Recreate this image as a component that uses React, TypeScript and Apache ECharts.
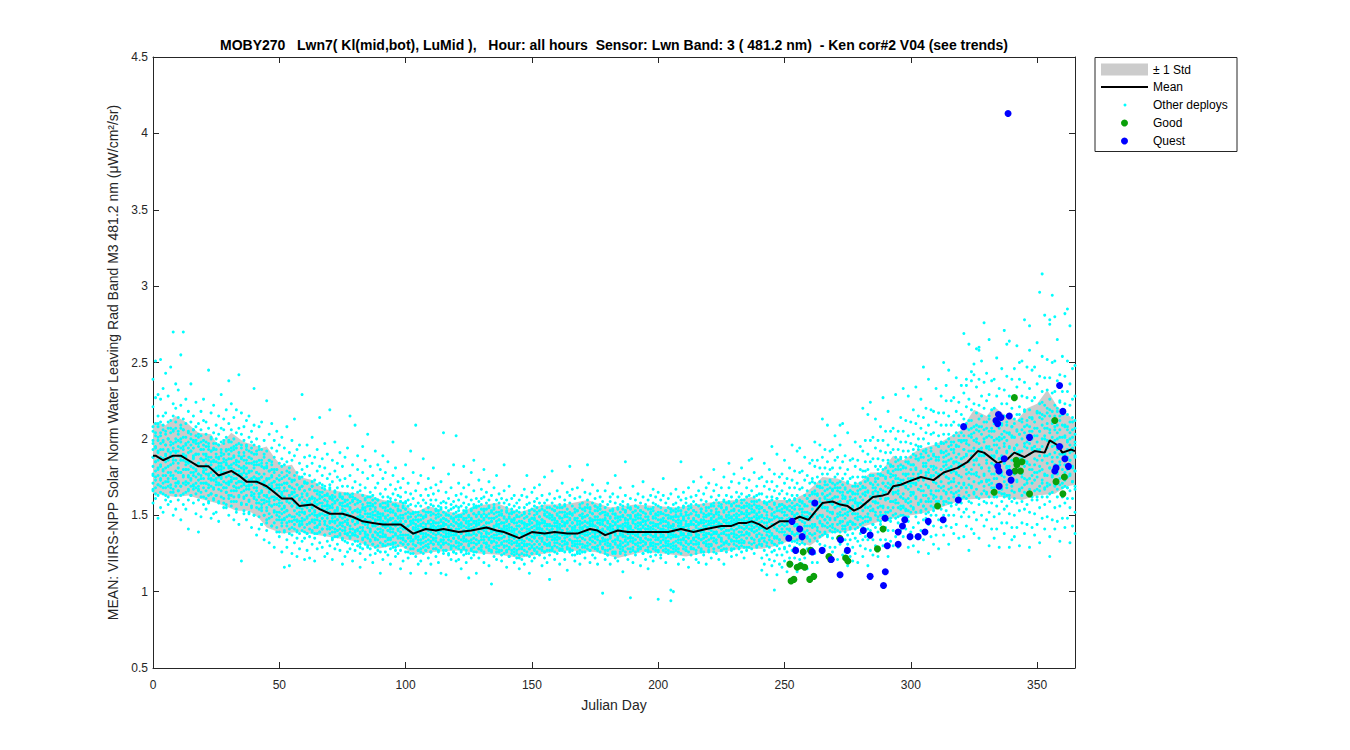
import React, { useEffect, useRef } from "react";
import * as echarts from "echarts";

const FONT = '"Liberation Sans", Arial, Helvetica, sans-serif';
const TITLE =
  "MOBY270   Lwn7( Kl(mid,bot), LuMid ),   Hour: all hours  Sensor: Lwn Band: 3 ( 481.2 nm)  - Ken cor#2 V04 (see trends)";
const Y_NAME = "MEAN: VIIRS-NPP Solar Norm Water Leaving Rad Band M3 481.2 nm (\u03bcW/cm\u00b2/sr)";
const X_NAME = "Julian Day";
const LEGEND_LABELS = ["\u00b1 1 Std", "Mean", "Other deploys", "Good", "Quest"];

// Mean curve [Julian day, value]
const meanCurve: number[][] = [
  [0, 1.89], [1, 1.89], [4, 1.86], [8, 1.89], [11, 1.89], [14, 1.86], [18, 1.82], [22, 1.82], [26, 1.76],
  [31, 1.79], [34, 1.76], [37, 1.72], [41, 1.72], [45, 1.69], [48, 1.65], [51, 1.61], [55, 1.61], [58, 1.56],
  [63, 1.57], [66, 1.54], [70, 1.51], [75, 1.51], [79, 1.49], [83, 1.46], [87, 1.45], [91, 1.44], [95, 1.44],
  [98, 1.44], [103, 1.38], [108, 1.41], [112, 1.4], [115, 1.41], [121, 1.39], [126, 1.4], [132, 1.42],
  [136, 1.4], [139, 1.39], [145, 1.35], [150, 1.39], [155, 1.38], [159, 1.39], [164, 1.38], [168, 1.38],
  [173, 1.41], [176, 1.4], [179, 1.37], [184, 1.4], [188, 1.39], [191, 1.39], [195, 1.39], [199, 1.39],
  [204, 1.39], [209, 1.41], [214, 1.39], [219, 1.41], [222, 1.42], [225, 1.43], [229, 1.43], [232, 1.45],
  [235, 1.45], [237, 1.46], [240, 1.44], [243, 1.41], [246, 1.44], [248, 1.46], [252, 1.46], [256, 1.49],
  [259.5, 1.47], [262, 1.52], [265, 1.58], [269, 1.59], [272, 1.57], [275, 1.56], [277.5, 1.53], [280, 1.55],
  [285, 1.62], [289, 1.63], [291, 1.64], [293, 1.69], [296, 1.7], [299, 1.72], [304, 1.75], [309, 1.73],
  [313, 1.78], [318.5, 1.81], [322.5, 1.85], [326.5, 1.92], [329, 1.91], [334.4, 1.84], [338.4, 1.87],
  [341, 1.91], [345, 1.88], [349, 1.92], [353, 1.91], [355, 1.99], [358, 1.96], [360, 1.91], [363.5, 1.93],
  [365, 1.92],
];

// Upper / lower edge of the +-1 std band [Julian day, value]
const stdUpper: number[][] = [
  [0, 2.1], [1, 2.11], [5, 2.09], [9, 2.15], [13, 2.11], [18, 2.04], [23, 2.03], [26, 1.95], [31, 2.04],
  [36, 1.98], [40, 1.96], [43, 1.94], [45, 1.95], [48, 1.88], [51, 1.82], [55, 1.83], [58, 1.75], [63, 1.73],
  [68, 1.67], [76, 1.65], [83, 1.64], [91, 1.6], [99, 1.58], [104, 1.52], [109, 1.56], [115, 1.53], [121, 1.51],
  [127, 1.56], [136, 1.58], [145, 1.52], [155, 1.57], [163, 1.57], [172, 1.6], [181, 1.55], [191, 1.57],
  [199, 1.56], [207, 1.55], [215, 1.57], [223, 1.59], [231, 1.6], [237, 1.62], [242, 1.59], [247, 1.6],
  [253, 1.6], [258, 1.64], [262, 1.7], [265, 1.75], [271, 1.74], [277, 1.7], [280, 1.72], [284, 1.78],
  [288, 1.78], [293, 1.89], [297, 1.86], [303, 1.93], [309, 1.96], [313, 1.99], [320, 2.06], [325, 2.19],
  [330, 2.15], [333, 2.21], [337, 2.16], [342, 2.12], [346, 2.2], [350, 2.23], [354, 2.32], [358, 2.21],
  [362, 2.16], [365, 2.12],
];
const stdLower: number[][] = [
  [0, 1.64], [1, 1.64], [5, 1.63], [9, 1.62], [14, 1.63], [18, 1.61], [25, 1.58], [30, 1.55], [33, 1.53],
  [38, 1.53], [42, 1.48], [45, 1.42], [51, 1.38], [58, 1.39], [65, 1.37], [73, 1.35], [80, 1.33], [89, 1.28],
  [95, 1.3], [99, 1.29], [104, 1.24], [111, 1.26], [121, 1.27], [129, 1.25], [138, 1.24], [145, 1.22],
  [155, 1.25], [165, 1.27], [175, 1.26], [184, 1.22], [194, 1.26], [202, 1.25], [211, 1.23], [217, 1.25],
  [225, 1.26], [233, 1.28], [241, 1.28], [247, 1.3], [253, 1.34], [260, 1.3], [267, 1.38], [274, 1.39],
  [280, 1.42], [288, 1.46], [296, 1.49], [304, 1.51], [312, 1.55], [320, 1.6], [328, 1.61], [336, 1.62],
  [344, 1.6], [350, 1.63], [357, 1.64], [362, 1.69], [365, 1.7],
];

// "Good" deploys [Julian day, value]
const goodPoints: number[][] = [
  [341, 2.27], [357, 2.12], [341.7, 1.86], [342, 1.83], [341.3, 1.79], [343.4, 1.79], [357.5, 1.72],
  [360.8, 1.75], [360.2, 1.64], [347, 1.64], [333, 1.65], [310.6, 1.56], [289, 1.41], [286.8, 1.28],
  [257.4, 1.26], [260.3, 1.27], [267.6, 1.23], [268.3, 1.21], [274.2, 1.22], [275.1, 1.2], [252.1, 1.18],
  [255, 1.16], [256.3, 1.17], [258, 1.16], [253.7, 1.08], [252.6, 1.07], [260, 1.08], [261.6, 1.1],
  [271.9, 1.35], [344, 1.85],
];

// "Quest" deploys [Julian day, value]
const questPoints: number[][] = [
  [358.9, 2.35], [334.7, 2.16], [333.7, 2.12], [335.7, 2.14], [339, 2.15], [360.2, 2.18], [320.9, 2.08],
  [347, 2.01], [337, 1.87], [334.4, 1.82], [339, 1.78], [358.9, 1.95], [357.5, 1.81], [357, 1.79], [335, 1.69],
  [318.8, 1.6], [262, 1.58], [312.8, 1.47], [306.9, 1.46], [297.6, 1.47], [296.7, 1.43], [295, 1.39],
  [305.6, 1.39], [302.9, 1.36], [299.7, 1.36], [289.8, 1.48], [283.9, 1.37], [281.2, 1.4], [295, 1.31],
  [290.7, 1.3], [272.2, 1.34], [274.9, 1.27], [264.9, 1.27], [261, 1.26], [254.4, 1.27], [251.7, 1.35],
  [256, 1.41], [257, 1.36], [253, 1.46], [268.5, 1.21], [272, 1.11], [283.9, 1.1], [289.9, 1.13],
  [289.2, 1.04], [338.5, 4.13], [334.4, 2.1], [362.4, 1.82], [361, 1.87], [339.7, 1.73], [334.9, 1.79],
];

// "Other deploys": each row = [Julian day, values x 100 ...] (scattered points)
const otherDeploysRows: number[][] = [
  [0, 193, 171, 205, 182, 166, 221, 188, 158, 239, 199, 176],
  [1, 185, 210, 168, 194, 227, 179, 161, 202, 173, 251],
  [2, 176, 199, 186, 215, 163, 208, 192, 148, 181, 170, 229],
  [3, 197, 182, 169, 226, 188, 204, 174, 155, 211, 252],
  [4, 187, 164, 209, 180, 198, 171, 233, 193, 152, 215, 176],
  [5, 172, 203, 190, 168, 217, 185, 160, 196, 243, 181],
  [6, 200, 174, 186, 162, 211, 193, 178, 228, 157, 207, 169],
  [7, 183, 212, 170, 191, 204, 165, 247, 178, 196, 159],
  [8, 192, 167, 206, 184, 270, 176, 215, 197, 150, 188, 223],
  [9, 174, 198, 186, 163, 220, 191, 207, 169, 236, 154],
  [10, 189, 205, 171, 195, 181, 160, 214, 178, 199, 232, 166],
  [11, 178, 194, 209, 169, 255, 186, 163, 222, 200, 147],
  [12, 186, 171, 201, 193, 270, 176, 213, 157, 189, 206, 180],
  [13, 180, 196, 165, 210, 188, 172, 201, 226, 154, 183],
  [14, 191, 175, 205, 184, 167, 198, 218, 160, 180, 141, 171],
  [15, 178, 192, 169, 203, 185, 211, 163, 196, 236, 174],
  [16, 187, 170, 199, 181, 215, 176, 158, 194, 206, 167, 189],
  [17, 175, 190, 202, 168, 183, 224, 197, 151, 179, 208],
  [18, 184, 169, 197, 177, 210, 190, 160, 173, 201, 139, 166],
  [19, 171, 193, 182, 165, 206, 187, 176, 218, 149, 198],
  [20, 186, 174, 199, 162, 212, 181, 193, 226, 168, 157, 178],
  [21, 177, 190, 166, 203, 183, 171, 211, 195, 154, 187],
  [22, 182, 197, 170, 188, 207, 163, 245, 176, 193, 158, 174],
  [23, 169, 185, 201, 178, 164, 192, 217, 174, 188, 148],
  [24, 180, 194, 168, 176, 204, 186, 161, 222, 197, 173, 151],
  [25, 174, 188, 200, 163, 181, 209, 170, 193, 152, 185],
  [26, 167, 184, 196, 175, 159, 203, 188, 171, 215, 146, 180],
  [27, 182, 170, 193, 178, 207, 162, 189, 229, 174, 198],
  [28, 172, 185, 161, 199, 177, 168, 206, 190, 155, 181, 213],
  [29, 178, 165, 192, 183, 201, 171, 157, 219, 186, 168],
  [30, 170, 187, 176, 198, 163, 210, 182, 150, 238, 193, 172],
  [31, 181, 166, 194, 175, 206, 187, 159, 223, 172, 198],
  [32, 174, 189, 162, 180, 200, 169, 214, 193, 147, 184, 166],
  [33, 168, 183, 196, 174, 159, 204, 186, 171, 219, 152],
  [34, 176, 163, 191, 179, 207, 168, 242, 185, 144, 197, 172],
  [35, 165, 181, 194, 172, 158, 203, 187, 120, 217, 176],
  [36, 178, 162, 186, 170, 199, 182, 153, 208, 166, 191, 174],
  [37, 169, 184, 157, 193, 175, 163, 212, 181, 147, 196],
  [38, 173, 160, 188, 178, 167, 201, 184, 151, 215, 170, 192],
  [39, 163, 179, 194, 170, 156, 187, 205, 174, 142, 198],
  [40, 175, 161, 183, 168, 196, 172, 150, 209, 185, 164, 233],
  [41, 166, 178, 155, 190, 171, 160, 200, 183, 137, 174, 192],
  [42, 158, 173, 186, 164, 149, 195, 177, 208, 162, 141],
  [43, 171, 160, 182, 153, 175, 193, 166, 144, 211, 186, 157],
  [44, 163, 177, 150, 188, 169, 158, 199, 181, 134, 172],
  [45, 155, 168, 181, 162, 174, 147, 192, 225, 159, 184, 140],
  [46, 170, 157, 186, 165, 151, 179, 203, 161, 132, 174],
  [47, 162, 175, 149, 183, 168, 156, 194, 171, 143, 210, 180],
  [48, 153, 166, 178, 160, 172, 145, 188, 157, 129, 199],
  [49, 168, 157, 180, 150, 164, 192, 174, 139, 205, 161, 147],
  [50, 160, 147, 173, 156, 184, 166, 136, 196, 152, 170],
  [51, 151, 165, 178, 158, 143, 187, 163, 126, 201, 170, 147],
  [52, 162, 148, 171, 139, 183, 155, 116, 194, 168, 152],
  [53, 145, 159, 176, 166, 134, 185, 153, 129, 208, 171, 149],
  [54, 158, 141, 169, 150, 181, 163, 117, 191, 146, 174],
  [55, 149, 164, 137, 172, 156, 186, 142, 125, 199, 160, 168],
  [56, 153, 167, 144, 176, 159, 132, 189, 147, 162, 213],
  [57, 140, 157, 170, 151, 163, 178, 135, 193, 146, 123],
  [58, 161, 146, 174, 155, 138, 184, 150, 167, 128, 196, 143],
  [59, 144, 158, 169, 152, 133, 180, 164, 229, 148, 175],
  [60, 156, 139, 166, 147, 177, 160, 121, 188, 152, 171, 135],
  [61, 149, 163, 138, 171, 155, 182, 144, 127, 196, 158],
  [62, 141, 158, 167, 150, 176, 136, 189, 153, 160, 122, 145],
  [63, 155, 146, 169, 139, 162, 184, 151, 131, 201, 172],
  [64, 147, 161, 135, 173, 153, 142, 188, 158, 120, 166, 150],
  [65, 157, 143, 166, 150, 179, 138, 160, 193, 147, 128],
  [66, 139, 154, 171, 146, 161, 132, 182, 150, 214, 163, 144],
  [67, 151, 165, 141, 176, 148, 158, 129, 187, 156, 170],
  [68, 144, 160, 150, 169, 137, 181, 153, 123, 197, 146, 163],
  [69, 156, 141, 164, 148, 174, 133, 159, 190, 152, 125],
  [70, 138, 152, 167, 145, 161, 177, 142, 219, 130, 155, 170],
  [71, 150, 163, 139, 172, 146, 157, 186, 134, 121, 160],
  [72, 145, 158, 136, 166, 152, 179, 141, 162, 198, 128, 149],
  [73, 153, 140, 168, 147, 160, 131, 184, 155, 143, 175],
  [74, 137, 151, 164, 144, 173, 157, 127, 191, 149, 162, 141],
  [75, 148, 161, 135, 169, 154, 140, 182, 158, 118, 145],
  [76, 142, 156, 133, 164, 149, 174, 138, 123, 188, 153, 160],
  [77, 151, 138, 160, 145, 169, 132, 156, 194, 147, 126],
  [78, 135, 149, 163, 143, 155, 128, 176, 150, 215, 139, 158],
  [79, 146, 159, 131, 168, 152, 141, 183, 137, 120, 162],
  [80, 140, 153, 137, 161, 148, 172, 133, 157, 209, 144, 127],
  [81, 152, 136, 165, 145, 158, 130, 180, 149, 141, 189],
  [82, 131, 147, 159, 142, 170, 153, 125, 139, 166, 150, 116],
  [83, 145, 157, 134, 163, 149, 178, 140, 128, 195, 154],
  [84, 138, 151, 160, 144, 131, 168, 155, 186, 136, 147, 121],
  [85, 149, 135, 162, 142, 156, 129, 174, 146, 137, 203],
  [86, 133, 146, 158, 140, 165, 151, 124, 182, 139, 154, 128],
  [87, 144, 156, 131, 163, 148, 137, 176, 152, 119, 160],
  [88, 139, 150, 129, 158, 143, 168, 135, 155, 192, 146, 125],
  [89, 147, 134, 160, 141, 152, 127, 171, 144, 138, 183],
  [90, 132, 145, 157, 139, 164, 149, 112, 180, 136, 151, 126],
  [91, 143, 155, 130, 162, 146, 136, 174, 150, 121, 140, 189],
  [92, 137, 148, 158, 133, 167, 142, 126, 153, 145, 178],
  [93, 146, 131, 156, 140, 162, 150, 124, 185, 135, 157, 143],
  [94, 134, 147, 139, 159, 128, 170, 152, 141, 118, 161],
  [95, 141, 153, 129, 164, 145, 136, 176, 148, 131, 198],
  [96, 145, 132, 157, 138, 167, 151, 123, 143, 160, 127, 181],
  [97, 130, 144, 154, 140, 163, 136, 149, 172, 125, 156],
  [98, 148, 135, 159, 142, 127, 168, 153, 139, 115, 146, 162],
  [99, 137, 150, 131, 158, 144, 174, 134, 155, 120, 141],
  [100, 142, 129, 154, 146, 165, 137, 151, 126, 183, 159, 133],
  [101, 135, 148, 140, 160, 131, 156, 143, 171, 122, 152],
  [102, 144, 133, 157, 139, 149, 125, 164, 136, 112, 146, 192],
  [103, 131, 145, 152, 138, 161, 142, 128, 178, 147, 134],
  [104, 140, 152, 130, 156, 144, 135, 166, 149, 123, 209, 138],
  [105, 136, 147, 127, 158, 141, 150, 132, 171, 143, 118],
  [106, 139, 150, 128, 156, 143, 134, 163, 147, 120, 176, 131],
  [107, 145, 132, 153, 138, 160, 142, 125, 149, 136, 187],
  [108, 130, 144, 149, 136, 158, 141, 112, 167, 133, 152, 127],
  [109, 141, 152, 129, 146, 137, 163, 131, 155, 174, 122],
  [110, 136, 147, 133, 157, 142, 126, 160, 150, 139, 118, 168],
  [111, 143, 131, 151, 138, 164, 145, 128, 156, 134, 181],
  [112, 128, 140, 154, 135, 148, 160, 142, 123, 170, 137, 150],
  [113, 138, 149, 132, 156, 141, 126, 166, 145, 119, 153],
  [114, 142, 129, 150, 137, 158, 146, 133, 112, 172, 140, 155],
  [115, 134, 145, 139, 159, 131, 152, 143, 127, 204, 148],
  [116, 140, 151, 127, 155, 136, 147, 165, 132, 111, 158, 144],
  [117, 131, 143, 153, 138, 161, 142, 125, 150, 136, 177],
  [118, 144, 133, 157, 140, 130, 149, 168, 137, 121, 154, 128],
  [119, 137, 148, 130, 155, 143, 159, 135, 126, 183, 146],
  [120, 141, 129, 152, 138, 163, 145, 132, 202, 149, 120, 156],
  [121, 135, 147, 128, 153, 141, 160, 132, 144, 121, 171, 150],
  [122, 142, 131, 156, 138, 149, 126, 164, 145, 134, 115],
  [123, 129, 143, 151, 136, 158, 140, 124, 168, 147, 133, 182],
  [124, 145, 134, 155, 139, 127, 162, 148, 137, 119, 153],
  [125, 138, 150, 130, 146, 141, 170, 125, 157, 133, 143, 109],
  [126, 132, 144, 153, 137, 160, 128, 148, 141, 178, 122],
  [127, 146, 135, 157, 129, 142, 166, 151, 138, 124, 155, 186],
  [128, 137, 149, 131, 155, 143, 126, 161, 146, 112, 134],
  [129, 141, 128, 152, 139, 159, 133, 147, 122, 173, 144, 156],
  [130, 134, 146, 138, 157, 130, 150, 142, 167, 127, 161],
  [131, 143, 132, 154, 140, 125, 162, 148, 136, 119, 151, 180],
  [132, 129, 141, 149, 136, 158, 145, 131, 165, 139, 154],
  [133, 145, 134, 156, 138, 127, 151, 142, 172, 130, 117, 160],
  [134, 136, 148, 132, 153, 141, 163, 126, 146, 105, 139],
  [135, 140, 129, 151, 137, 157, 143, 133, 168, 148, 123, 155],
  [136, 132, 144, 139, 160, 128, 152, 146, 135, 176, 121],
  [137, 147, 135, 155, 130, 142, 164, 138, 150, 126, 158, 144],
  [138, 138, 150, 127, 153, 140, 131, 161, 145, 120, 135],
  [139, 133, 145, 136, 158, 142, 125, 166, 149, 139, 183, 129],
  [140, 141, 130, 152, 138, 147, 160, 127, 143, 155, 116],
  [141, 128, 140, 149, 134, 157, 144, 132, 169, 137, 151, 123],
  [142, 139, 151, 131, 146, 136, 161, 142, 125, 154, 147],
  [143, 135, 126, 148, 140, 156, 132, 145, 163, 119, 152, 138],
  [144, 130, 143, 137, 153, 127, 149, 141, 158, 122, 133],
  [145, 134, 124, 146, 131, 152, 139, 128, 160, 143, 115, 155],
  [146, 129, 141, 136, 150, 125, 145, 132, 163, 138, 121],
  [147, 137, 127, 148, 133, 155, 142, 130, 167, 145, 118, 152],
  [148, 131, 144, 139, 157, 126, 149, 135, 162, 141, 176],
  [149, 140, 128, 151, 134, 146, 123, 158, 137, 144, 131, 112],
  [150, 133, 145, 130, 154, 139, 148, 125, 165, 142, 120],
  [151, 138, 127, 150, 136, 159, 143, 131, 147, 122, 156, 168],
  [152, 129, 141, 146, 133, 155, 137, 126, 161, 144, 151],
  [153, 142, 131, 153, 139, 128, 149, 135, 170, 124, 158, 145],
  [154, 135, 147, 129, 156, 140, 133, 163, 145, 117, 138],
  [155, 137, 126, 150, 143, 158, 131, 146, 139, 175, 122, 153],
  [156, 131, 144, 138, 152, 127, 160, 141, 134, 149, 119],
  [157, 143, 132, 155, 136, 148, 124, 164, 140, 130, 151, 108],
  [158, 128, 141, 147, 134, 158, 139, 127, 150, 143, 179],
  [159, 139, 130, 153, 137, 145, 161, 132, 121, 148, 156, 135],
  [160, 134, 146, 129, 151, 140, 136, 166, 143, 125, 155],
  [161, 141, 127, 149, 135, 157, 144, 131, 162, 138, 118, 152],
  [162, 130, 143, 137, 155, 128, 148, 140, 171, 133, 146],
  [163, 145, 133, 152, 138, 126, 160, 143, 135, 149, 121, 157],
  [164, 136, 149, 131, 154, 141, 129, 165, 146, 138, 114],
  [165, 139, 128, 151, 134, 158, 143, 126, 148, 137, 163, 182],
  [166, 127, 140, 145, 133, 156, 138, 150, 130, 167, 142],
  [167, 142, 131, 154, 137, 147, 124, 161, 140, 133, 152, 120],
  [168, 135, 146, 129, 153, 139, 144, 131, 168, 148, 125],
  [169, 140, 127, 150, 136, 157, 142, 133, 162, 118, 146, 155],
  [170, 131, 145, 138, 151, 126, 158, 141, 135, 173, 149],
  [171, 146, 134, 155, 139, 129, 149, 143, 165, 137, 122, 153],
  [172, 137, 150, 132, 157, 142, 128, 160, 145, 139, 183],
  [173, 143, 131, 152, 138, 164, 146, 127, 155, 134, 148, 119],
  [174, 133, 147, 140, 158, 129, 151, 136, 170, 144, 124],
  [175, 139, 128, 153, 135, 147, 161, 132, 143, 122, 156, 138],
  [176, 130, 142, 149, 136, 155, 127, 145, 139, 166, 118],
  [177, 144, 133, 156, 140, 126, 151, 137, 162, 147, 131, 154],
  [178, 135, 147, 129, 152, 141, 135, 159, 144, 99, 128],
  [179, 131, 143, 137, 155, 125, 148, 139, 166, 133, 150, 121],
  [180, 138, 127, 150, 134, 157, 142, 130, 146, 171, 124],
  [181, 142, 131, 153, 137, 128, 159, 144, 135, 149, 118, 162],
  [182, 129, 141, 146, 133, 154, 139, 125, 164, 143, 151],
  [183, 140, 132, 151, 137, 158, 145, 126, 148, 134, 176, 122],
  [184, 134, 146, 130, 155, 141, 136, 162, 149, 120, 143],
  [185, 143, 128, 152, 138, 147, 133, 168, 140, 125, 157, 131],
  [186, 132, 144, 139, 156, 127, 150, 142, 137, 159, 113],
  [187, 139, 130, 153, 136, 148, 124, 163, 145, 133, 152, 185],
  [188, 128, 142, 147, 135, 157, 140, 131, 155, 121, 144],
  [189, 141, 133, 154, 138, 126, 150, 143, 161, 96, 136, 149],
  [190, 135, 147, 129, 152, 140, 145, 132, 169, 138, 119],
  [191, 137, 126, 149, 134, 156, 142, 131, 147, 160, 124, 153],
  [192, 130, 143, 138, 155, 127, 148, 141, 136, 164, 150],
  [193, 144, 132, 153, 139, 129, 158, 145, 134, 150, 117, 141],
  [194, 133, 146, 130, 152, 137, 143, 162, 147, 125, 172],
  [195, 138, 127, 151, 135, 157, 141, 132, 155, 121, 146, 139],
  [196, 129, 141, 147, 134, 160, 138, 126, 149, 143, 115],
  [197, 142, 131, 154, 137, 145, 123, 163, 140, 134, 152, 130],
  [198, 136, 148, 128, 153, 141, 132, 158, 145, 120, 167],
  [199, 140, 129, 151, 136, 157, 143, 134, 148, 124, 162, 137],
  [200, 131, 144, 139, 156, 126, 150, 142, 135, 165, 95],
  [201, 145, 133, 152, 138, 129, 147, 140, 160, 122, 155, 136],
  [202, 134, 146, 130, 151, 141, 137, 163, 148, 127, 174],
  [203, 139, 128, 153, 135, 146, 132, 158, 143, 119, 150, 130],
  [204, 130, 142, 148, 136, 155, 140, 127, 161, 145, 133],
  [205, 143, 131, 154, 138, 126, 149, 137, 94, 164, 152, 101],
  [206, 136, 147, 132, 153, 141, 128, 157, 144, 100, 139],
  [207, 141, 130, 150, 137, 158, 146, 133, 152, 123, 167, 127],
  [208, 132, 145, 140, 155, 128, 149, 136, 162, 143, 118],
  [209, 146, 134, 153, 139, 131, 160, 144, 137, 151, 125, 185],
  [210, 137, 149, 130, 156, 142, 134, 165, 147, 138, 121],
  [211, 140, 129, 152, 136, 158, 144, 132, 150, 127, 161, 143],
  [212, 131, 143, 138, 154, 126, 148, 141, 135, 168, 116],
  [213, 144, 133, 155, 139, 129, 151, 137, 162, 146, 124, 157],
  [214, 135, 147, 131, 153, 140, 128, 159, 144, 134, 172],
  [215, 139, 127, 150, 136, 157, 143, 131, 146, 121, 163, 138],
  [216, 132, 145, 140, 156, 129, 150, 137, 135, 166, 119],
  [217, 146, 134, 154, 141, 126, 160, 145, 139, 152, 128, 175],
  [218, 137, 149, 132, 157, 143, 135, 164, 147, 124, 141],
  [219, 142, 131, 153, 138, 159, 146, 133, 150, 118, 168, 136],
  [220, 134, 146, 141, 155, 129, 151, 138, 144, 171, 126],
  [221, 147, 135, 156, 140, 131, 162, 148, 137, 153, 122, 145],
  [222, 138, 150, 133, 158, 143, 128, 166, 146, 139, 180],
  [223, 143, 132, 154, 139, 160, 147, 134, 151, 125, 170, 138],
  [224, 136, 148, 129, 156, 142, 137, 163, 145, 121, 152],
  [225, 141, 133, 157, 138, 149, 130, 168, 144, 135, 155, 127],
  [226, 132, 147, 142, 160, 128, 152, 139, 146, 175, 118],
  [227, 149, 137, 158, 143, 132, 163, 150, 140, 155, 126, 145],
  [228, 140, 152, 135, 159, 145, 131, 168, 148, 137, 184],
  [229, 144, 133, 156, 141, 162, 149, 128, 153, 138, 172, 123],
  [230, 136, 150, 143, 158, 131, 154, 140, 147, 177, 128],
  [231, 148, 137, 160, 144, 133, 165, 151, 141, 156, 124, 146],
  [232, 139, 153, 136, 162, 147, 132, 171, 150, 143, 129],
  [233, 145, 134, 158, 142, 164, 151, 130, 155, 139, 181, 126],
  [234, 137, 151, 144, 160, 133, 156, 141, 148, 174, 122],
  [235, 150, 139, 162, 146, 135, 168, 153, 143, 158, 127, 149],
  [236, 141, 155, 137, 163, 148, 132, 173, 151, 144, 186],
  [237, 146, 135, 159, 143, 166, 152, 131, 156, 140, 187, 128],
  [238, 139, 153, 145, 162, 134, 157, 142, 149, 178, 125],
  [239, 151, 140, 163, 147, 136, 169, 155, 144, 159, 129, 148],
  [240, 142, 156, 138, 164, 149, 133, 174, 152, 145, 131],
  [241, 142, 155, 130, 150, 164, 137, 175, 122, 146, 114],
  [242, 148, 135, 159, 141, 169, 127, 153, 118, 184],
  [243, 139, 152, 132, 162, 145, 124, 157, 172, 111, 143],
  [244, 147, 139, 155, 129, 167, 159, 134, 180, 121],
  [245, 137, 150, 162, 132, 144, 172, 126, 154, 195, 117],
  [246, 152, 142, 158, 135, 166, 127, 148, 177, 120, 131, 101],
  [247, 141, 155, 130, 149, 161, 136, 169, 124, 190, 111],
  [248, 146, 134, 153, 164, 139, 128, 157, 175, 118],
  [249, 144, 157, 132, 152, 166, 139, 177, 124, 148, 116],
  [250, 150, 137, 161, 143, 171, 129, 155, 120, 186],
  [251, 141, 154, 134, 164, 147, 126, 159, 174, 113, 145],
  [252, 148, 140, 156, 130, 168, 160, 135, 181, 122],
  [253, 138, 151, 163, 133, 145, 173, 127, 155, 196, 118],
  [254, 154, 144, 160, 137, 168, 129, 150, 179, 122, 133],
  [255, 143, 157, 132, 151, 163, 138, 171, 126, 192, 113],
  [256, 149, 137, 156, 167, 142, 131, 160, 178, 121, 194],
  [257, 146, 159, 134, 154, 168, 141, 179, 126, 150, 118],
  [258, 152, 139, 163, 145, 173, 131, 157, 122, 188],
  [259, 143, 156, 136, 166, 149, 128, 161, 176, 115, 147],
  [260, 151, 143, 159, 133, 171, 163, 138, 184, 125],
  [261, 150, 164, 137, 159, 174, 144, 186, 128, 154, 119],
  [262, 158, 144, 171, 151, 182, 135, 164, 125, 198],
  [263, 149, 164, 142, 175, 156, 133, 169, 186, 119, 154],
  [264, 159, 150, 168, 139, 181, 172, 145, 196, 131],
  [265, 149, 164, 177, 144, 157, 188, 137, 168, 213, 127],
  [266, 166, 155, 172, 147, 181, 138, 161, 193, 130, 143],
  [267, 155, 170, 142, 163, 177, 149, 185, 136, 209, 122],
  [268, 160, 147, 168, 180, 152, 140, 172, 192, 129],
  [269, 157, 171, 144, 166, 181, 151, 193, 135, 161, 126],
  [270, 162, 148, 175, 155, 186, 139, 168, 129, 202],
  [271, 151, 166, 144, 177, 158, 135, 171, 188, 121, 156],
  [272, 159, 150, 168, 139, 181, 172, 145, 196, 131, 209],
  [273, 146, 161, 174, 141, 154, 185, 134, 165, 210, 124],
  [274, 162, 151, 168, 143, 177, 134, 157, 189, 126, 139],
  [275, 150, 165, 137, 158, 172, 144, 180, 131, 204, 117],
  [276, 154, 141, 162, 174, 146, 134, 166, 186, 123],
  [277, 151, 165, 138, 160, 175, 145, 187, 129, 155, 120],
  [278, 158, 144, 171, 151, 182, 135, 164, 125, 198],
  [279, 149, 164, 142, 175, 156, 133, 169, 186, 119, 154],
  [280, 158, 149, 167, 138, 180, 171, 144, 195, 130],
  [281, 148, 164, 179, 142, 157, 192, 134, 169, 220, 123],
  [282, 168, 155, 175, 146, 185, 136, 163, 199, 128, 141],
  [283, 155, 173, 141, 165, 180, 149, 190, 134, 216, 117],
  [284, 162, 147, 171, 185, 153, 140, 176, 199, 127, 224],
  [285, 159, 176, 144, 170, 187, 153, 201, 134, 165, 124],
  [286, 168, 152, 182, 159, 194, 142, 174, 130, 213],
  [287, 158, 174, 149, 187, 165, 139, 180, 199, 123, 163],
  [288, 167, 156, 177, 144, 192, 182, 150, 208, 134],
  [289, 155, 171, 186, 149, 164, 199, 141, 176, 227, 130],
  [290, 174, 161, 181, 152, 191, 142, 169, 205, 134, 147],
  [291, 161, 179, 147, 171, 186, 155, 196, 140, 218, 123],
  [292, 168, 153, 177, 191, 159, 146, 182, 205, 133],
  [293, 165, 182, 150, 176, 193, 159, 207, 140, 171, 130],
  [294, 174, 158, 188, 165, 200, 148, 180, 136, 229],
  [295, 164, 180, 155, 193, 171, 145, 186, 205, 129, 169],
  [296, 173, 162, 183, 150, 198, 188, 156, 214, 140],
  [297, 161, 177, 192, 155, 170, 205, 147, 182, 233, 136],
  [298, 181, 168, 188, 159, 198, 149, 176, 212, 141, 154],
  [299, 167, 185, 153, 177, 192, 161, 202, 146, 228, 129],
  [300, 174, 159, 183, 197, 165, 152, 188, 211, 139],
  [301, 171, 190, 154, 183, 203, 164, 219, 142, 177, 130],
  [302, 180, 161, 196, 170, 210, 149, 187, 136, 234],
  [303, 167, 186, 157, 200, 175, 145, 193, 215, 126, 173],
  [304, 178, 166, 190, 152, 207, 195, 159, 226, 140],
  [305, 163, 182, 200, 156, 174, 214, 147, 188, 247, 134],
  [306, 184, 170, 193, 159, 204, 148, 178, 220, 138, 154],
  [307, 168, 189, 152, 180, 197, 161, 209, 144, 239, 125],
  [308, 176, 159, 187, 203, 166, 150, 192, 219, 136],
  [309, 172, 189, 155, 182, 204, 163, 218, 143, 176, 131],
  [310, 181, 162, 197, 171, 211, 150, 188, 137, 233],
  [311, 169, 188, 159, 202, 177, 147, 195, 217, 128, 175],
  [312, 180, 168, 192, 154, 209, 197, 161, 228, 142],
  [313, 166, 185, 203, 159, 177, 217, 150, 191, 250, 137],
  [314, 189, 175, 198, 164, 209, 153, 183, 225, 143, 159, 235],
  [315, 174, 195, 158, 186, 203, 167, 215, 150, 245, 131],
  [316, 182, 165, 193, 209, 172, 156, 198, 225, 142],
  [317, 179, 198, 162, 191, 211, 172, 227, 150, 185, 138],
  [318, 188, 169, 204, 178, 218, 157, 195, 144, 240],
  [319, 176, 195, 166, 209, 184, 154, 202, 224, 135, 182],
  [320, 187, 175, 199, 161, 216, 204, 168, 235, 149],
  [321, 170, 193, 213, 162, 182, 230, 152, 199, 269, 136],
  [322, 197, 180, 207, 168, 221, 154, 190, 239, 143, 161, 235],
  [323, 178, 202, 159, 192, 212, 170, 226, 149, 262, 127],
  [324, 189, 168, 201, 219, 177, 158, 207, 238, 141, 244],
  [325, 186, 208, 165, 199, 223, 177, 242, 152, 192, 138, 249],
  [326, 198, 176, 217, 186, 234, 162, 206, 147, 259],
  [327, 183, 205, 171, 222, 193, 157, 213, 239, 135, 189, 258, 260],
  [328, 194, 181, 208, 164, 228, 215, 172, 251, 150],
  [329, 177, 200, 220, 169, 189, 237, 159, 206, 276, 143],
  [330, 201, 184, 211, 172, 225, 158, 194, 243, 147, 165],
  [331, 181, 205, 162, 195, 215, 173, 229, 152, 265, 130],
  [332, 189, 168, 201, 219, 177, 158, 207, 238, 141],
  [333, 183, 205, 162, 196, 220, 174, 239, 149, 189, 135],
  [334, 192, 170, 211, 180, 228, 156, 200, 141, 253],
  [335, 177, 199, 165, 216, 187, 151, 207, 233, 129, 183],
  [336, 189, 176, 203, 159, 223, 210, 167, 246, 145],
  [337, 172, 195, 215, 164, 184, 232, 154, 201, 271, 138],
  [338, 199, 182, 209, 170, 223, 156, 192, 241, 145, 163, 262],
  [339, 180, 204, 161, 194, 214, 172, 228, 151, 264, 129],
  [340, 190, 169, 202, 220, 178, 159, 208, 239, 142, 134],
  [341, 186, 210, 165, 201, 226, 177, 246, 150, 194, 136],
  [342, 196, 173, 216, 184, 234, 158, 205, 142, 261],
  [343, 180, 203, 167, 221, 191, 153, 212, 239, 130, 187, 250],
  [344, 192, 177, 206, 159, 228, 213, 168, 251, 145],
  [345, 174, 197, 219, 165, 186, 237, 154, 204, 278, 138],
  [346, 202, 184, 212, 171, 227, 157, 194, 247, 144, 164],
  [347, 183, 208, 163, 197, 219, 174, 233, 152, 274, 129, 258],
  [348, 193, 171, 205, 225, 180, 160, 213, 245, 142],
  [349, 187, 211, 166, 202, 227, 178, 247, 151, 195, 137],
  [350, 198, 175, 218, 186, 236, 160, 207, 144, 263, 162],
  [351, 182, 205, 169, 223, 193, 155, 214, 241, 132, 189, 296],
  [352, 195, 180, 209, 162, 231, 216, 171, 254, 148, 308],
  [353, 177, 200, 222, 168, 189, 240, 157, 207, 281, 141],
  [354, 207, 189, 217, 176, 232, 162, 199, 252, 149, 169],
  [355, 190, 215, 170, 204, 226, 181, 240, 159, 278, 136, 123, 275],
  [356, 198, 176, 210, 230, 185, 165, 218, 250, 147, 294],
  [357, 191, 215, 170, 206, 231, 182, 251, 155, 199, 141, 280],
  [358, 200, 177, 220, 188, 238, 162, 209, 146, 265],
  [359, 183, 206, 170, 224, 194, 156, 215, 242, 133, 190],
  [360, 195, 180, 209, 162, 231, 216, 171, 254, 148],
  [361, 178, 201, 223, 169, 190, 241, 158, 208, 282, 142],
  [362, 206, 188, 216, 175, 231, 161, 198, 251, 148, 168, 285],
  [363, 186, 211, 166, 200, 222, 177, 236, 155, 274, 132],
  [364, 194, 172, 206, 226, 181, 161, 214, 246, 143],
  [365, 188, 212, 167, 203, 228, 179, 248, 152, 196, 138],
];

// "Other deploys" inside the +-1 std band: each row = [Julian day, values x 100 ...]
const otherDeploysCoreRows: number[][] = [
  [0, 167, 177, 188, 197, 208], [1, 164, 175, 185, 195, 204], [2, 170, 180, 191, 201, 210],
  [3, 165, 173, 183, 193, 202], [4, 168, 179, 187, 199, 206], [5, 163, 176, 189, 196, 205],
  [6, 172, 182, 187, 192, 200], [7, 168, 176, 189, 198, 207], [8, 165, 174, 186, 194, 205],
  [9, 171, 179, 192, 200, 211], [10, 166, 172, 184, 192, 203], [11, 169, 178, 188, 198, 207],
  [12, 164, 175, 190, 195, 206], [13, 170, 180, 185, 189, 197], [14, 166, 176, 185, 194, 204],
  [15, 163, 173, 182, 192, 200], [16, 169, 178, 188, 198, 206], [17, 164, 171, 180, 190, 199],
  [18, 167, 177, 184, 195, 203], [19, 162, 174, 187, 193, 202], [20, 171, 179, 186, 190, 196],
  [21, 161, 171, 180, 189, 198], [22, 159, 168, 177, 186, 195], [23, 164, 173, 183, 192, 200],
  [24, 160, 167, 176, 185, 193], [25, 163, 172, 179, 190, 197], [26, 158, 170, 182, 187, 196],
  [27, 166, 175, 180, 184, 191], [28, 158, 168, 178, 187, 197], [29, 155, 165, 175, 184, 193],
  [30, 161, 171, 181, 190, 199], [31, 156, 163, 173, 183, 192], [32, 159, 169, 177, 188, 195],
  [33, 154, 166, 179, 185, 194], [34, 162, 172, 177, 182, 189], [35, 157, 169, 177, 188, 196],
  [36, 151, 161, 171, 180, 189], [37, 157, 167, 177, 186, 195], [38, 152, 159, 169, 179, 188],
  [39, 155, 165, 173, 184, 191], [40, 150, 162, 175, 181, 190], [41, 158, 168, 173, 178, 185],
  [42, 154, 164, 174, 183, 193], [43, 144, 155, 165, 175, 184], [44, 150, 160, 171, 181, 190],
  [45, 145, 153, 163, 173, 182], [46, 148, 159, 167, 179, 186], [47, 143, 156, 169, 176, 185],
  [48, 152, 162, 167, 172, 180], [49, 142, 152, 161, 170, 180], [50, 139, 149, 158, 168, 176],
  [51, 145, 154, 164, 174, 182], [52, 140, 147, 156, 166, 175], [53, 143, 153, 160, 171, 179],
  [54, 138, 150, 163, 169, 178], [55, 146, 156, 161, 165, 173], [56, 141, 149, 158, 165, 173],
  [57, 139, 147, 155, 163, 170], [58, 144, 152, 160, 168, 175], [59, 140, 146, 154, 162, 169],
  [60, 142, 151, 157, 166, 172], [61, 138, 148, 159, 164, 171], [62, 145, 153, 157, 161, 167],
  [63, 140, 147, 155, 161, 169], [64, 138, 145, 152, 159, 166], [65, 142, 149, 157, 164, 170],
  [66, 139, 144, 151, 158, 165], [67, 141, 148, 154, 162, 168], [68, 137, 146, 156, 160, 167],
  [69, 143, 150, 154, 157, 163], [70, 141, 146, 156, 162, 168], [71, 135, 142, 148, 155, 161],
  [72, 139, 146, 153, 159, 165], [73, 136, 140, 147, 154, 160], [74, 138, 145, 150, 158, 163],
  [75, 134, 143, 152, 156, 162], [76, 140, 146, 150, 153, 159], [77, 137, 144, 151, 157, 164],
  [78, 136, 141, 149, 154, 162], [79, 138, 147, 152, 160, 164], [80, 137, 139, 148, 153, 161],
  [81, 133, 140, 146, 154, 160], [82, 129, 138, 148, 152, 159], [83, 135, 142, 146, 149, 155],
  [84, 132, 139, 147, 153, 161], [85, 130, 137, 144, 151, 158], [86, 134, 141, 149, 156, 162],
  [87, 131, 136, 143, 150, 157], [88, 134, 139, 147, 153, 161], [89, 130, 137, 149, 151, 160],
  [90, 136, 141, 147, 148, 156], [91, 131, 138, 145, 151, 158], [92, 130, 136, 143, 149, 155],
  [93, 134, 140, 147, 153, 159], [94, 131, 135, 142, 148, 154], [95, 132, 139, 144, 152, 157],
  [96, 129, 137, 146, 150, 156], [97, 135, 141, 145, 148, 153], [98, 132, 137, 146, 150, 159],
  [99, 131, 135, 144, 148, 156], [100, 133, 141, 146, 154, 158], [101, 126, 131, 137, 143, 149],
  [102, 128, 135, 139, 146, 151], [103, 125, 133, 141, 145, 151], [104, 130, 136, 140, 142, 147],
  [105, 127, 134, 140, 146, 152], [106, 126, 132, 138, 144, 150], [107, 129, 135, 142, 148, 153],
  [108, 127, 130, 138, 142, 150], [109, 129, 134, 140, 145, 152], [110, 126, 132, 142, 144, 152],
  [111, 131, 135, 141, 143, 146], [112, 128, 133, 141, 145, 153], [113, 127, 131, 139, 143, 151],
  [114, 130, 134, 143, 147, 154], [115, 125, 132, 136, 144, 148], [116, 127, 136, 138, 147, 150],
  [117, 124, 134, 140, 146, 150], [118, 129, 137, 139, 141, 148], [119, 126, 135, 139, 147, 151],
  [120, 125, 133, 137, 145, 149], [121, 130, 136, 143, 149, 155], [122, 127, 131, 138, 144, 150],
  [123, 128, 135, 140, 148, 153], [124, 125, 133, 142, 146, 152], [125, 131, 137, 141, 144, 149],
  [126, 127, 134, 141, 147, 154], [127, 126, 132, 139, 145, 151], [128, 131, 137, 144, 150, 156],
  [129, 128, 132, 139, 145, 151], [130, 129, 136, 141, 149, 154], [131, 126, 134, 143, 147, 153],
  [132, 132, 138, 142, 145, 150], [133, 128, 135, 142, 148, 155], [134, 127, 133, 140, 146, 152],
  [135, 129, 135, 142, 148, 154], [136, 126, 130, 137, 143, 149], [137, 127, 134, 139, 147, 152],
  [138, 124, 132, 141, 145, 151], [139, 130, 136, 140, 143, 148], [140, 126, 133, 140, 146, 153],
  [141, 123, 129, 136, 142, 148], [142, 127, 133, 140, 146, 152], [143, 124, 128, 135, 141, 147],
  [144, 125, 132, 137, 145, 150], [145, 122, 130, 139, 143, 149], [146, 128, 134, 138, 141, 146],
  [147, 124, 131, 138, 144, 151], [148, 124, 130, 137, 143, 149], [149, 128, 134, 141, 147, 153],
  [150, 125, 129, 136, 142, 148], [151, 128, 135, 140, 148, 153], [152, 125, 133, 142, 146, 152],
  [153, 131, 137, 141, 144, 149], [154, 127, 134, 141, 147, 154], [155, 126, 132, 139, 145, 151],
  [156, 130, 136, 143, 149, 155], [157, 127, 131, 138, 144, 150], [158, 129, 136, 141, 149, 154],
  [159, 126, 134, 143, 147, 153], [160, 132, 138, 142, 145, 150], [161, 128, 135, 142, 148, 155],
  [162, 127, 133, 140, 146, 152], [163, 131, 137, 144, 150, 156], [164, 128, 132, 139, 145, 151],
  [165, 127, 134, 139, 147, 152], [166, 124, 132, 141, 145, 151], [167, 130, 136, 140, 143, 148],
  [168, 126, 133, 140, 146, 153], [169, 125, 131, 138, 144, 150], [170, 129, 135, 142, 148, 154],
  [171, 126, 130, 137, 143, 149], [172, 130, 137, 142, 150, 155], [173, 127, 135, 144, 148, 154],
  [174, 133, 139, 143, 146, 151], [175, 129, 136, 143, 149, 156], [176, 128, 134, 141, 147, 153],
  [177, 132, 138, 145, 151, 157], [178, 129, 133, 140, 146, 152], [179, 127, 134, 139, 147, 152],
  [180, 124, 132, 141, 145, 151], [181, 130, 136, 140, 143, 148], [182, 126, 133, 140, 146, 153],
  [183, 125, 131, 138, 144, 150], [184, 129, 135, 142, 148, 154], [185, 126, 130, 137, 143, 149],
  [186, 129, 136, 141, 149, 154], [187, 126, 134, 143, 147, 153], [188, 132, 138, 142, 145, 150],
  [189, 128, 135, 142, 148, 155], [190, 127, 133, 140, 146, 152], [191, 131, 137, 144, 150, 156],
  [192, 128, 132, 139, 145, 151], [193, 128, 135, 140, 148, 153], [194, 125, 133, 142, 146, 152],
  [195, 131, 137, 141, 144, 149], [196, 127, 134, 141, 147, 154], [197, 126, 132, 139, 145, 151],
  [198, 130, 136, 143, 149, 155], [199, 127, 131, 138, 144, 150], [200, 127, 134, 139, 147, 152],
  [201, 124, 132, 141, 145, 151], [202, 130, 136, 140, 143, 148], [203, 126, 133, 140, 146, 153],
  [204, 125, 131, 138, 144, 150], [205, 129, 135, 142, 148, 154], [206, 126, 130, 137, 143, 149],
  [207, 129, 136, 141, 149, 154], [208, 126, 134, 143, 147, 153], [209, 132, 138, 142, 145, 150],
  [210, 128, 135, 142, 148, 155], [211, 127, 133, 140, 146, 152], [212, 131, 137, 144, 150, 156],
  [213, 128, 132, 139, 145, 151], [214, 128, 135, 140, 148, 153], [215, 125, 133, 142, 146, 152],
  [216, 131, 137, 141, 144, 149], [217, 127, 134, 141, 147, 154], [218, 126, 132, 139, 145, 151],
  [219, 130, 136, 143, 149, 155], [220, 127, 131, 138, 144, 150], [221, 130, 137, 143, 151, 157],
  [222, 126, 135, 145, 149, 156], [223, 132, 139, 143, 146, 152], [224, 129, 136, 144, 150, 158],
  [225, 127, 134, 141, 148, 155], [226, 131, 138, 146, 153, 159], [227, 128, 133, 140, 147, 154],
  [228, 131, 136, 144, 150, 158], [229, 127, 134, 146, 148, 157], [230, 133, 138, 144, 145, 153],
  [231, 130, 135, 145, 149, 159], [232, 128, 133, 142, 147, 156], [233, 132, 137, 147, 152, 160],
  [234, 129, 132, 141, 146, 155], [235, 129, 138, 142, 152, 156], [236, 129, 138, 147, 151, 157],
  [237, 135, 141, 145, 148, 154], [238, 132, 139, 146, 152, 159], [239, 130, 137, 143, 150, 156],
  [240, 134, 141, 148, 154, 160], [241, 131, 135, 142, 149, 155], [242, 133, 140, 145, 153, 158],
  [243, 130, 137, 148, 150, 158], [244, 136, 140, 146, 147, 155], [245, 133, 138, 147, 151, 160],
  [246, 131, 136, 144, 149, 157], [247, 135, 140, 149, 153, 161], [248, 132, 134, 143, 148, 156],
  [249, 132, 141, 144, 154, 157], [250, 128, 139, 146, 152, 156], [251, 137, 144, 147, 150, 155],
  [252, 134, 141, 148, 153, 160], [253, 133, 139, 146, 152, 158], [254, 137, 143, 149, 156, 161],
  [255, 134, 138, 144, 151, 157], [256, 135, 142, 147, 154, 159], [257, 132, 140, 149, 152, 158],
  [258, 138, 143, 148, 149, 156], [259, 135, 140, 149, 152, 161], [260, 134, 138, 147, 151, 159],
  [261, 142, 149, 157, 165, 172], [262, 138, 143, 151, 159, 166], [263, 140, 148, 154, 163, 169],
  [264, 136, 146, 156, 161, 169], [265, 143, 150, 155, 158, 164], [266, 139, 147, 155, 162, 170],
  [267, 137, 145, 153, 160, 167], [268, 143, 148, 158, 164, 173], [269, 139, 142, 152, 158, 167],
  [270, 141, 147, 155, 162, 170], [271, 140, 149, 158, 162, 168], [272, 146, 152, 156, 159, 165],
  [273, 143, 150, 157, 163, 170], [274, 141, 148, 154, 161, 167], [275, 145, 152, 159, 165, 171],
  [276, 142, 146, 153, 160, 166], [277, 144, 151, 156, 164, 169], [278, 141, 148, 159, 161, 169],
  [279, 147, 151, 157, 158, 166], [280, 144, 149, 158, 162, 171], [281, 145, 153, 160, 168, 175],
  [282, 149, 157, 165, 172, 179], [283, 146, 151, 159, 166, 174], [284, 148, 156, 162, 171, 176],
  [285, 144, 154, 164, 168, 176], [286, 150, 158, 162, 166, 172], [287, 147, 155, 163, 170, 177],
  [288, 146, 152, 161, 167, 176], [289, 150, 156, 166, 171, 180], [290, 147, 150, 160, 165, 175],
  [291, 152, 161, 168, 178, 184], [292, 148, 159, 170, 175, 183], [293, 155, 164, 168, 172, 179],
  [294, 151, 160, 169, 176, 185], [295, 149, 158, 166, 174, 182], [296, 154, 162, 171, 180, 187],
  [297, 150, 156, 164, 173, 181], [298, 153, 160, 169, 177, 185], [299, 149, 158, 171, 174, 184],
  [300, 156, 163, 169, 171, 180], [301, 155, 165, 174, 183, 193], [302, 152, 162, 171, 181, 189],
  [303, 158, 167, 177, 187, 195], [304, 153, 160, 169, 179, 188], [305, 156, 166, 173, 184, 192],
  [306, 151, 163, 176, 182, 191], [307, 159, 169, 174, 178, 186], [308, 156, 164, 175, 182, 194],
  [309, 153, 161, 172, 180, 190], [310, 159, 166, 178, 186, 196], [311, 159, 166, 176, 186, 195],
  [312, 162, 172, 180, 191, 198], [313, 157, 169, 182, 188, 197], [314, 165, 175, 180, 185, 192],
  [315, 161, 171, 181, 190, 200], [316, 158, 168, 178, 187, 196], [317, 164, 174, 184, 193, 202],
  [318, 160, 165, 177, 185, 196], [319, 163, 171, 181, 190, 199], [320, 158, 168, 183, 187, 198],
  [321, 171, 182, 188, 193, 202], [322, 165, 177, 189, 199, 210], [323, 163, 174, 185, 196, 206],
  [324, 169, 180, 192, 203, 212], [325, 164, 172, 183, 194, 204], [326, 167, 178, 187, 200, 209],
  [327, 161, 175, 190, 197, 208], [328, 172, 181, 189, 192, 203], [329, 166, 176, 190, 198, 211],
  [330, 164, 173, 186, 195, 207], [331, 170, 179, 193, 202, 213], [332, 165, 171, 184, 193, 205],
  [333, 168, 177, 188, 199, 210], [334, 162, 174, 191, 196, 209], [335, 170, 183, 187, 194, 201],
  [336, 164, 178, 188, 200, 209], [337, 162, 175, 184, 197, 205], [338, 168, 181, 191, 204, 211],
  [339, 163, 173, 182, 195, 203], [340, 166, 179, 186, 201, 208], [341, 161, 177, 193, 201, 213],
  [342, 172, 184, 191, 196, 206], [343, 166, 179, 192, 203, 216], [344, 163, 175, 188, 200, 211],
  [345, 170, 182, 195, 208, 218], [346, 164, 173, 185, 198, 209], [347, 167, 180, 190, 205, 214],
  [348, 162, 176, 194, 200, 214], [349, 173, 183, 192, 195, 207], [350, 167, 178, 193, 202, 217],
  [351, 166, 179, 192, 205, 217], [352, 173, 186, 200, 213, 224], [353, 167, 176, 189, 202, 215],
  [354, 171, 184, 194, 210, 220], [355, 164, 181, 198, 206, 219], [356, 175, 188, 195, 201, 212],
  [357, 169, 183, 196, 208, 222], [358, 167, 178, 193, 204, 218], [359, 174, 185, 201, 212, 225],
  [360, 168, 175, 190, 201, 216], [361, 173, 183, 191, 202, 209], [362, 168, 180, 193, 199, 208],
  [363, 176, 186, 191, 196, 204], [364, 172, 182, 192, 201, 211], [365, 169, 179, 189, 198, 207],
];

const X_TICKS = { min: 0, max: 365, interval: 50 };
const Y_TICKS = { min: 0.5, max: 4.5, interval: 0.5 };

const AXIS_COLOR = "#262626";

export default function App() {
  const ref = useRef<HTMLDivElement>(null);

  useEffect(() => {
    if (!ref.current) return;
    const chart = echarts.init(ref.current, undefined, { renderer: "svg" });

    const otherData: number[][] = [];
    [otherDeploysRows, otherDeploysCoreRows].forEach((rows) =>
      rows.forEach((row) => {
        const day = row[0];
        for (let i = 1; i < row.length; i++) otherData.push([day, row[i] / 100]);
      })
    );

    const axisCommon = {
      axisLine: { show: true, onZero: false, lineStyle: { color: AXIS_COLOR, width: 1 } },
      axisTick: { show: true, inside: true, length: 6, lineStyle: { color: AXIS_COLOR, width: 1 } },
      splitLine: { show: false },
    };

    const txt = (text: string, x: number, y: number) => ({
      type: "text",
      x,
      y,
      silent: true,
      style: {
        text,
        fill: "#000",
        font: `12px ${FONT}`,
        fontSize: 12,
        fontFamily: FONT,
        align: "left",
        verticalAlign: "middle",
        textAlign: "left",
        textVerticalAlign: "middle",
      },
    });

    const legendRows = [69.5, 87, 105, 123, 141];
    const titleText = TITLE.replace(/ {2,}/g, (m) => "\u00a0".repeat(m.length));

    const option: any = {
      animation: false,
      backgroundColor: "#ffffff",
      grid: { left: 153, right: 275, top: 57, bottom: 82, containLabel: false },
      xAxis: [
        {
          type: "value",
          position: "bottom",
          ...X_TICKS,
          ...axisCommon,
          axisLabel: {
            show: true,
            color: AXIS_COLOR,
            fontSize: 12,
            fontFamily: FONT,
            margin: 11,
            showMaxLabel: false,
          },
          name: X_NAME,
          nameLocation: "middle",
          nameGap: 30,
          nameTextStyle: { color: AXIS_COLOR, fontSize: 14, fontFamily: FONT },
        },
        {
          type: "value",
          position: "top",
          ...X_TICKS,
          ...axisCommon,
          axisLabel: { show: false },
        },
      ],
      yAxis: [
        {
          type: "value",
          position: "left",
          ...Y_TICKS,
          ...axisCommon,
          axisLabel: { show: true, color: AXIS_COLOR, fontSize: 12, fontFamily: FONT, margin: 5 },
          name: Y_NAME,
          nameLocation: "middle",
          nameGap: 31,
          nameTextStyle: { color: AXIS_COLOR, fontSize: 14, fontFamily: FONT },
        },
        {
          type: "value",
          position: "right",
          ...Y_TICKS,
          ...axisCommon,
          axisLabel: { show: false },
        },
      ],
      series: [
        {
          name: LEGEND_LABELS[0],
          type: "custom",
          silent: true,
          z: 1,
          data: [[0, 1]],
          renderItem: (_params: any, api: any) => {
            const pts = stdUpper
              .map((p) => api.coord(p))
              .concat(stdLower.slice().reverse().map((p) => api.coord(p)));
            return { type: "polygon", shape: { points: pts }, style: { fill: "#cccccc", stroke: "none" } };
          },
        },
        {
          name: LEGEND_LABELS[2],
          type: "scatter",
          silent: true,
          z: 2,
          symbol: "circle",
          symbolSize: 3,
          itemStyle: { color: "#00ffff", opacity: 1 },
          data: otherData,
        },
        {
          name: LEGEND_LABELS[1],
          type: "line",
          silent: true,
          z: 3,
          showSymbol: false,
          symbol: "none",
          lineStyle: { color: "#000000", width: 2 },
          data: meanCurve,
        },
        {
          name: LEGEND_LABELS[3],
          type: "scatter",
          silent: true,
          z: 4,
          symbolSize: 7,
          itemStyle: { color: "#0aa00a", opacity: 1 },
          data: goodPoints,
        },
        {
          name: LEGEND_LABELS[4],
          type: "scatter",
          silent: true,
          z: 5,
          symbolSize: 7,
          itemStyle: { color: "#0000ff", opacity: 1 },
          data: questPoints,
        },
      ],
      graphic: [
        {
          type: "text",
          x: 614,
          y: 45,
          silent: true,
          style: {
            text: titleText,
            fill: "#000",
            font: `bold 14px ${FONT}`,
            fontSize: 14,
            fontWeight: "bold",
            fontFamily: FONT,
            align: "center",
            verticalAlign: "middle",
            textAlign: "center",
            textVerticalAlign: "middle",
          },
        },
        {
          type: "rect",
          silent: true,
          shape: { x: 1095, y: 57.5, width: 142, height: 94 },
          style: { fill: "#ffffff", stroke: AXIS_COLOR, lineWidth: 1 },
        },
        {
          type: "rect",
          silent: true,
          shape: { x: 1101, y: 63.5, width: 47, height: 12 },
          style: { fill: "#cccccc" },
        },
        {
          type: "line",
          silent: true,
          shape: { x1: 1101, y1: legendRows[1], x2: 1148, y2: legendRows[1] },
          style: { stroke: "#000", lineWidth: 2 },
        },
        { type: "circle", silent: true, shape: { cx: 1125, cy: legendRows[2], r: 1.5 }, style: { fill: "#00ffff" } },
        { type: "circle", silent: true, shape: { cx: 1124.5, cy: legendRows[3], r: 3.5 }, style: { fill: "#0aa00a" } },
        { type: "circle", silent: true, shape: { cx: 1124.5, cy: legendRows[4], r: 3.5 }, style: { fill: "#0000ff" } },
        ...LEGEND_LABELS.map((t, i) => txt(t, 1153, legendRows[i])),
      ],
    };

    chart.setOption(option);
    return () => chart.dispose();
  }, []);

  return (
    <div
      ref={ref}
      style={{ position: "absolute", left: 0, top: 0, width: 1350, height: 750, background: "#fff" }}
    />
  );
}
